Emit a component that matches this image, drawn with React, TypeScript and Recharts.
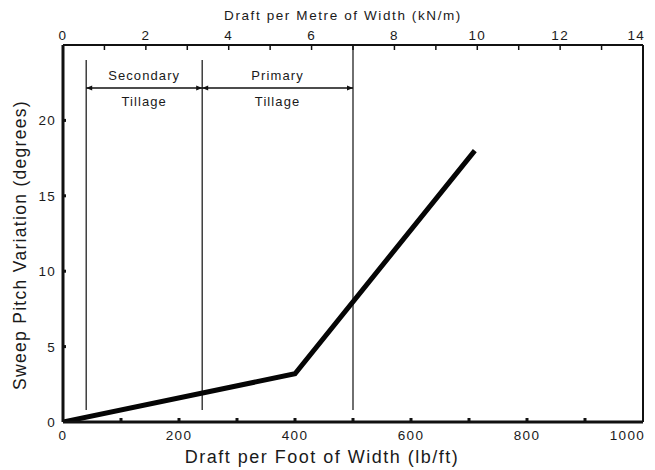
import React from "react";
import {
  ComposedChart,
  Line,
  Scatter,
  XAxis,
  YAxis,
  ReferenceLine,
  Label,
} from "recharts";

// draft per foot of width (lb/ft) vs sweep pitch variation (degrees)
const draftLbFt = [0, 400, 710];
const pitchDeg = [0, 3.2, 18];

const bottomTicks = [0, 100, 200, 300, 400, 500, 600, 700, 800, 900, 1000];
const topTicks = [0, 1, 2, 3, 4, 5, 6, 7, 8, 9, 10, 11, 12, 13, 14];
const yTicks = [0, 5, 10, 15, 20];

// tillage range boundaries (lb/ft)
const boundaries = [40, 240, 500];
const rangeNames = ["Secondary", "Primary"];
const rangeSub = ["Tillage", "Tillage"];
const boundaryLow = 0.8;
const boundaryHigh = [24, 24, 25];
const arrowLevel = 22.15;

// the top scale is drawn so that 14 kN/m sits over 1000 lb/ft
const KN_PER_LB = 14 / 1000;

const FONT = "'Liberation Sans', Arial, Helvetica, sans-serif";
const INK = "#111";

const lineData = draftLbFt.map((x, i) => ({
  x,
  kn: x * KN_PER_LB,
  y: pitchDeg[i],
}));

const arrowData = rangeNames.flatMap((_, i) => [
  { x: boundaries[i], y: arrowLevel, dir: -1 },
  { x: boundaries[i + 1], y: arrowLevel, dir: 1 },
]);

const labelData = rangeNames.map((name, i) => ({
  x: (boundaries[i] + boundaries[i + 1]) / 2,
  y: arrowLevel,
  name,
  sub: rangeSub[i],
}));

const tickText = {
  fontFamily: FONT,
  fontSize: 13.5,
  letterSpacing: 1.3,
  fill: "#1a1a1a",
};

const BottomTick = (props: any) => {
  const { x, y, payload } = props;
  const v = payload.value;
  const last = v === 1000;
  return (
    <g>
      {v > 0 && !last && (
        <line x1={x} y1={y} x2={x} y2={y - 4} stroke={INK} strokeWidth={3} />
      )}
      {v % 200 === 0 && (
        <text
          x={last ? x + 2 : x}
          y={y + 18}
          textAnchor={last ? "end" : "middle"}
          {...tickText}
        >
          {v}
        </text>
      )}
    </g>
  );
};

const TopTick = (props: any) => {
  const { x, y, payload } = props;
  const v = payload.value;
  const last = v === 14;
  return (
    <g>
      {v > 0 && !last && (
        <line x1={x} y1={y} x2={x} y2={y + 5} stroke={INK} strokeWidth={1.5} />
      )}
      {v % 2 === 0 && (
        <text
          x={last ? x + 2 : x}
          y={y - 5}
          textAnchor={last ? "end" : "middle"}
          {...tickText}
        >
          {v}
        </text>
      )}
    </g>
  );
};

const LeftTick = (props: any) => {
  const { x, y, payload } = props;
  const v = payload.value;
  return (
    <g>
      {v > 0 && <rect x={x} y={y - 1.5} width={3} height={3} fill={INK} />}
      <text x={x - 7} y={y + 5} textAnchor="end" {...tickText}>
        {v}
      </text>
    </g>
  );
};

const Arrowhead = (props: any) => {
  const { cx, cy, payload } = props;
  const d = payload.dir;
  const back = cx - d * 6;
  return (
    <path
      d={`M${cx},${cy} L${back},${cy - 2.5} L${back},${cy + 2.5} Z`}
      fill={INK}
    />
  );
};

const RangeLabel = (props: any) => {
  const { cx, cy, payload } = props;
  const style = {
    fontFamily: FONT,
    fontSize: 13,
    letterSpacing: 1.1,
    fill: "#1a1a1a",
  };
  return (
    <g>
      <text x={cx} y={cy - 8} textAnchor="middle" {...style}>
        {payload.name}
      </text>
      <text x={cx} y={cy + 18} textAnchor="middle" {...style}>
        {payload.sub}
      </text>
    </g>
  );
};

const titleStyle = {
  fontFamily: FONT,
  fill: "#1a1a1a",
};

export default function App() {
  return (
    <div style={{ position: "absolute", left: 0, top: 0, background: "#fff" }}>
      <ComposedChart
        width={655}
        height={470}
        margin={{ top: 0, right: 12, bottom: 0, left: 0 }}
      >
        <XAxis
          dataKey="x"
          type="number"
          domain={[0, 1000]}
          ticks={bottomTicks}
          interval={0}
          allowDataOverflow
          height={48}
          tickSize={0}
          tickMargin={0}
          tick={<BottomTick />}
          axisLine={{ stroke: INK, strokeWidth: 3 }}
        >
          <Label
            content={(p: any) => {
              const vb = p.viewBox;
              return (
                <text
                  x={vb.x + 259}
                  y={vb.y + 41}
                  textAnchor="middle"
                  fontSize={18}
                  letterSpacing={1.5}
                  {...titleStyle}
                >
                  Draft per Foot of Width (lb/ft)
                </text>
              );
            }}
          />
        </XAxis>
        <XAxis
          xAxisId="top"
          dataKey="kn"
          orientation="top"
          type="number"
          domain={[0, 14]}
          ticks={topTicks}
          interval={0}
          allowDataOverflow
          height={45}
          tickSize={0}
          tickMargin={0}
          tick={<TopTick />}
          axisLine={{ stroke: INK, strokeWidth: 2 }}
        >
          <Label
            content={(p: any) => {
              const vb = p.viewBox;
              return (
                <text
                  x={vb.x + 280}
                  y={vb.y + 20}
                  textAnchor="middle"
                  fontSize={13.5}
                  letterSpacing={1.6}
                  {...titleStyle}
                >
                  Draft per Metre of Width (kN/m)
                </text>
              );
            }}
          />
        </XAxis>
        <YAxis
          type="number"
          domain={[0, 25]}
          ticks={yTicks}
          interval={0}
          allowDataOverflow
          width={63}
          tickSize={0}
          tickMargin={0}
          tick={<LeftTick />}
          axisLine={{ stroke: INK, strokeWidth: 3 }}
        >
          <Label
            content={(p: any) => {
              const vb = p.viewBox;
              const cx = vb.x + 20;
              const cy = vb.y + 200;
              return (
                <text
                  x={cx}
                  y={cy}
                  textAnchor="middle"
                  dominantBaseline="central"
                  transform={`rotate(-90 ${cx} ${cy})`}
                  fontSize={17.5}
                  letterSpacing={1.3}
                  {...titleStyle}
                >
                  Sweep Pitch Variation (degrees)
                </text>
              );
            }}
          />
        </YAxis>

        <ReferenceLine x={1000} stroke={INK} strokeWidth={2} />

        {boundaries.map((b, i) => (
          <ReferenceLine
            key={`b-${b}`}
            segment={[
              { x: b, y: boundaryLow },
              { x: b, y: boundaryHigh[i] },
            ]}
            stroke="#222"
            strokeWidth={1.3}
          />
        ))}
        <ReferenceLine
          segment={[
            { x: boundaries[0], y: arrowLevel },
            { x: boundaries[boundaries.length - 1], y: arrowLevel },
          ]}
          stroke={INK}
          strokeWidth={1.5}
        />

        <Scatter
          data={arrowData}
          dataKey="y"
          shape={<Arrowhead />}
          isAnimationActive={false}
        />
        <Scatter
          data={labelData}
          dataKey="y"
          shape={<RangeLabel />}
          isAnimationActive={false}
        />

        {/* same curve on the metric scale, invisible, so the top axis has data */}
        <Line
          data={lineData}
          xAxisId="top"
          dataKey="y"
          type="linear"
          stroke="none"
          dot={false}
          activeDot={false}
          isAnimationActive={false}
        />
        <Line
          data={lineData}
          dataKey="y"
          type="linear"
          stroke="#050505"
          strokeWidth={5}
          dot={false}
          activeDot={false}
          isAnimationActive={false}
        />
      </ComposedChart>
    </div>
  );
}
